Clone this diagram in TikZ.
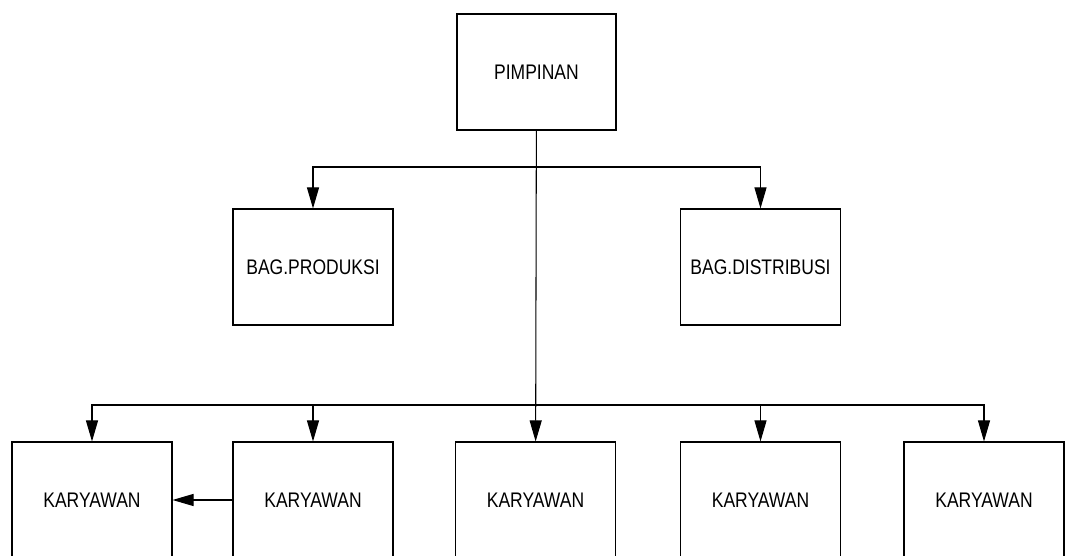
\documentclass[tikz,border=0pt]{standalone}
\usepackage{fontspec}
\usepackage{tikz}
\usepackage{color}
\usetikzlibrary{arrows.meta}
\newfontfamily\orgfont[FakeStretch=0.83]{Liberation Sans}
\tikzset{orgbox/.style={minimum width=3.2cm,minimum height=2.32cm,line width=0.6pt,draw=cv,fill=cfv,text=clv,shape=rectangle,font=\orgfont\fontsize{12}{14}\selectfont}}
\tikzset{orgedge/.style={line width=0.6pt,color=ce,-{Triangle[length=4.2mm,width=2.4mm]}}}

\begin{document}
\begin{tikzpicture}
\definecolor{cv}{rgb}{0.0,0.0,0.0}
\definecolor{cfv}{rgb}{1.0,1.0,1.0}
\definecolor{clv}{rgb}{0.0,0.0,0.0}
\definecolor{ce}{rgb}{0.0,0.0,0.0}
%
\clip (0,0) rectangle (21.3,11.12);
%
\node[orgbox,minimum width=3.18cm] (v0) at (10.73cm,9.68cm) {PIMPINAN};
\node[orgbox] (v1) at (6.26cm,5.78cm) {BAG.PRODUKSI};
\node[orgbox] (v2) at (15.21cm,5.78cm) {BAG.DISTRIBUSI};
\node[orgbox] (v3) at (1.84cm,1.12cm) {KARYAWAN};
\node[orgbox] (v4) at (6.26cm,1.12cm) {KARYAWAN};
\node[orgbox] (v5) at (10.71cm,1.12cm) {KARYAWAN};
\node[orgbox] (v6) at (15.21cm,1.12cm) {KARYAWAN};
\node[orgbox] (v7) at (19.68cm,1.12cm) {KARYAWAN};
%
\coordinate (j0) at (10.73,7.78);
\coordinate (j1) at (10.72,3.02);
%
\draw[orgedge] (v0) -- (v5);
\draw[orgedge] (v4) -- (v3);
\draw[orgedge] (j0) -| (v1);
\draw[orgedge] (j0) -| (v2);
\draw[orgedge] (j1) -| (v3);
\draw[orgedge] (j1) -| (v4);
\draw[orgedge] (j1) -| (v6);
\draw[orgedge] (j1) -| (v7);
%
\end{tikzpicture}
\end{document}
